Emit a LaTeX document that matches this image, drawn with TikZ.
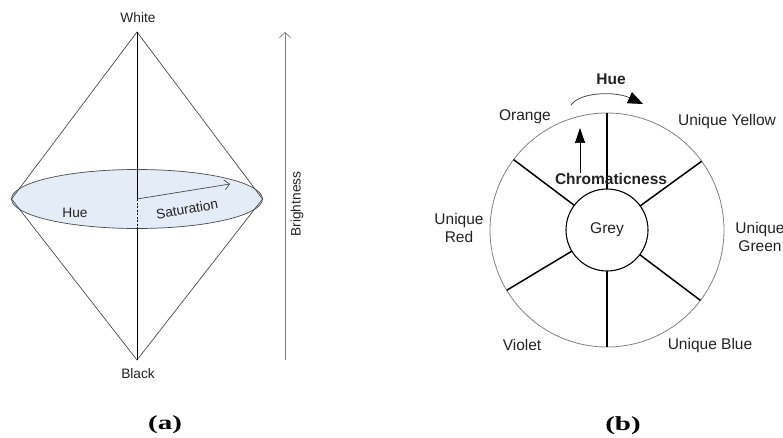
\documentclass[tikz,border=0pt]{standalone}
\usepackage{fontspec}
\setmainfont{Liberation Sans}
\newfontfamily\capfont{Liberation Serif}
\usetikzlibrary{arrows.meta,calc}
\definecolor{linegray}{HTML}{4A4A4A}
\definecolor{discfill}{HTML}{E4ECF7}
\definecolor{txt}{HTML}{222222}
\tikzset{
  lbla/.style={font=\fontsize{13.7}{15}\selectfont, text=txt, inner sep=0pt},
  lblb/.style={font=\fontsize{15.5}{18}\selectfont, text=txt, inner sep=0pt, align=center},
  lblbold/.style={font=\fontsize{15.5}{18}\selectfont\bfseries, text=txt, inner sep=0pt},
  capt/.style={font=\fontsize{20}{22}\selectfont\capfont\bfseries, inner sep=0pt},
  thin line/.style={draw=linegray, line width=0.7pt},
  spoke/.style={draw=black, line width=1.5pt},
}
\begin{document}
\begin{tikzpicture}[x=1pt,y=1pt]
\useasboundingbox (0,0) rectangle (783,437);
% ---------------- (a) ----------------
\coordinate (top) at (137,405);
\coordinate (bot) at (137,77);
\coordinate (ec) at (137,238);
\coordinate (eleft) at (11.5,238);
\coordinate (eright) at (262.5,238);
\coordinate (elow) at (137,208.5);
\coordinate (satend) at (230,253);
\fill[discfill] (ec) ellipse [x radius=125.5, y radius=29.5];
\draw[thin line] (ec) ellipse [x radius=125.5, y radius=29.5];
\draw[thin line] (eleft) -- (top) -- (eright);
\draw[thin line] (eleft) -- (bot) -- (eright);
\draw[draw=black, line width=0.6pt] (top) -- (ec);
\draw[draw=black, line width=0.6pt, dash pattern=on 2pt off 1.5pt] (ec) -- (elow);
\draw[draw=black, line width=0.6pt] (elow) -- (bot);
\draw[thin line, -{Straight Barb[length=5pt,width=10pt]}] (ec) -- (satend);
\node[lbla] (white) at (138,419) {White};
\node[lbla] (black) at (138,63) {Black};
\node[lbla] (hue) at (75,224) {Hue};
\node[lbla, rotate=10] (sat) at (187,228) {Saturation};
\coordinate (bb) at (285,77);
\coordinate (bt) at (285,405);
\draw[draw=gray, line width=0.8pt, -{Straight Barb[length=5pt,width=11pt]}] (bb) -- (bt);
\node[lbla, rotate=90] (bright) at (297,233) {Brightness};
\node[capt] (capa) at (165,12) {\scalebox{1.45}[1]{(a)}};
% ---------------- (b) ----------------
\coordinate (c) at (607,207);
\draw[draw=gray, line width=0.8pt] (c) circle [radius=117];
\draw[draw=black, line width=1.1pt] (c) circle [radius=41];
\foreach \a/\n in {90/s1,270/s2,36/s3,143/s4,-37/s5,-149/s6}{
  \coordinate (\n i) at ($(c)+(\a:41)$);
  \coordinate (\n o) at ($(c)+(\a:117)$);
  \draw[spoke] (\n i) -- (\n o);
}
\node[lblb] (grey) at (607,207) {Grey};
\node[lblbold] (chrom) at (611,258) {Chromaticness};
\coordinate (chb) at (580,264);
\coordinate (cht) at (580,309);
\draw[draw=black, line width=0.7pt, -{Triangle[length=15pt,width=10pt]}] (chb) -- (cht);
\coordinate (hs) at (571,332);
\coordinate (he) at (643,333);
\draw[draw=linegray, line width=0.8pt, -{Triangle[length=15pt,width=12pt,fill=black,color=black]}] (hs) .. controls (580,345) and (615,346) .. (he);
\node[lblbold] (huelbl) at (611,358) {Hue};
\node[lblb] (orange) at (525,320) {Orange};
\node[lblb] (uy) at (727,316) {Unique Yellow};
\node[lblb] (ur) at (459,209) {Unique\\Red};
\node[lblb] (ug) at (760,200) {Unique\\Green};
\node[lblb] (violet) at (522,92) {Violet};
\node[lblb] (ub) at (710,92) {Unique Blue};
\node[capt] (capb) at (623,11) {\scalebox{1.45}[1]{(b)}};
\end{tikzpicture}
\end{document}
